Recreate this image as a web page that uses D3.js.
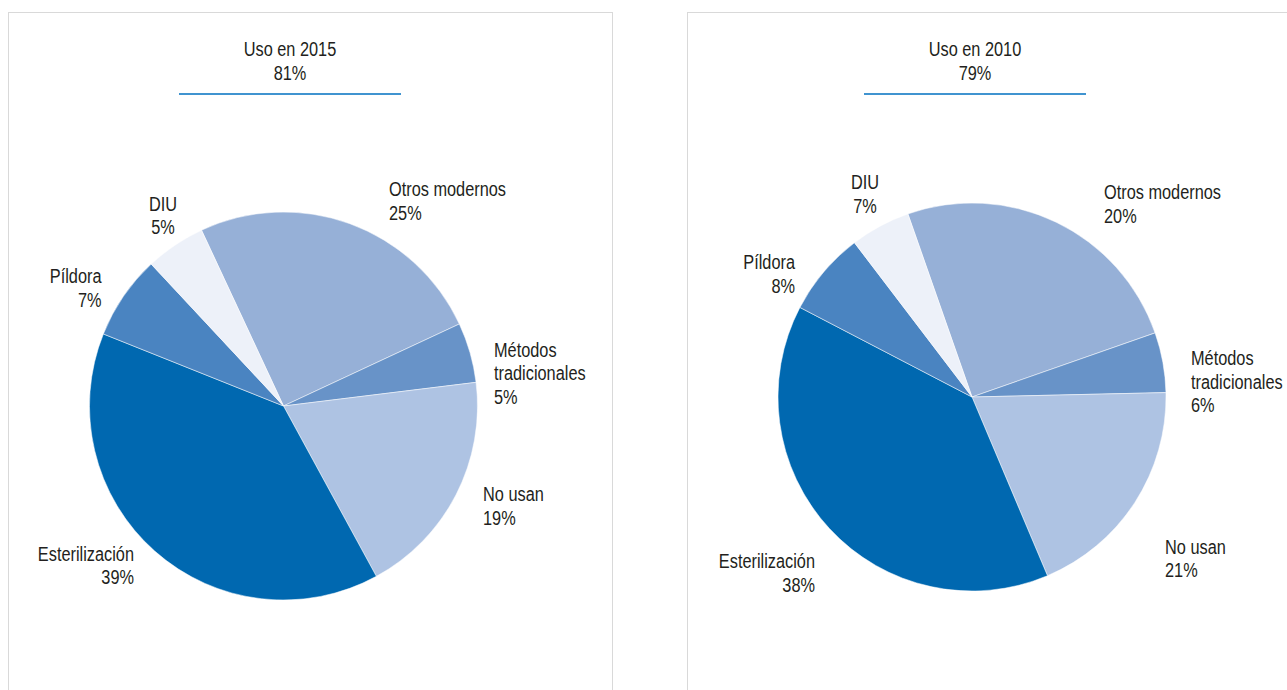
<!DOCTYPE html>
<html>
<head>
<meta charset="utf-8">
<script src="https://cdn.jsdelivr.net/npm/d3@7"></script>
<style>
  html, body { margin: 0; padding: 0; background: #ffffff; }
  svg { display: block; }
  text { font-family: "Liberation Sans", Arial, "DejaVu Sans", sans-serif; fill: #231f20; }
</style>
</head>
<body>
<svg id="chart" width="1287" height="690"></svg>
<script>
// ---- data ----
const categories = ["Otros modernos", "Métodos tradicionales", "No usan", "Esterilización", "Píldora", "DIU"];
const categoryLines = [["Otros modernos"], ["Métodos", "tradicionales"], ["No usan"], ["Esterilización"], ["Píldora"], ["DIU"]];
const colors = ["#96b0d7", "#6893c8", "#aec3e3", "#0068b0", "#4a84c1", "#edf1f9"];

const years = ["2015", "2010"];
const usageTotals = ["81%", "79%"];
// slice shares as drawn in the picture
const values2015 = [25, 5, 19, 39, 7, 5];
const values2010 = [25, 5, 19, 39, 7, 5];
// percentages printed in the labels
const pct2015 = [25, 5, 19, 39, 7, 5];
const pct2010 = [20, 6, 21, 38, 8, 7];

// ---- layout ----
const panels = [
  { x: 8, titleX: 290, cx: 283.5, cy: 406, r: 194, startDeg: -25, values: values2015, pct: pct2015,
    labelOff: [[105.5, -210, "start"], [210.5, -49.5, "start"], [199.5, 95, "start"], [-149.5, 154.5, "end"], [-182, -123, "end"], [-120.5, -195.5, "middle"]] },
  { x: 687, titleX: 975, cx: 972, cy: 397, r: 194, startDeg: -19.3, values: values2010, pct: pct2010,
    labelOff: [[132, -198, "start"], [219, -32, "start"], [193, 156.5, "start"], [-157, 171, "end"], [-177, -128, "end"], [-107, -208, "middle"]] }
];
const panelW = 604, fontSize = 19.5, lineH = 23.5;

const svg = d3.select("#chart");

// horizontal condensation so that the available sans face matches the condensed original
const probe = svg.append("text").style("font-size", fontSize + "px").text("Otros modernos");
const sx = 117 / probe.node().getComputedTextLength();
probe.remove();

function multiText(parent, x, y, anchor, lines) {
  const t = parent.append("text")
    .attr("text-anchor", anchor)
    .style("font-size", fontSize + "px");
  lines.forEach((ln, j) => {
    const ts = t.append("tspan").attr("x", x).attr("y", y + j * lineH).text(ln);
    const len = ts.node().getComputedTextLength();
    ts.attr("textLength", (len * sx).toFixed(2)).attr("lengthAdjust", "spacingAndGlyphs");
  });
}

panels.forEach((p, i) => {
  const g = svg.append("g");
  // panel frame
  g.append("rect")
    .attr("x", p.x + 0.5).attr("y", 12.5)
    .attr("width", panelW).attr("height", 720)
    .attr("fill", "none").attr("stroke", "#d9d9d9").attr("stroke-width", 1);

  // title
  multiText(g, p.titleX, 56, "middle", ["Uso en " + years[i], usageTotals[i]]);
  g.append("line")
    .attr("x1", p.titleX - 111).attr("x2", p.titleX + 111)
    .attr("y1", 94).attr("y2", 94)
    .attr("stroke", "#0070c0").attr("stroke-width", 1.5);

  // pie
  const start = p.startDeg * Math.PI / 180;
  const pie = d3.pie().sort(null).value(d => d).startAngle(start).endAngle(start + 2 * Math.PI);
  const arc = d3.arc().innerRadius(0).outerRadius(p.r);
  const pg = g.append("g").attr("transform", `translate(${p.cx},${p.cy})`);
  pg.selectAll("path").data(pie(p.values)).join("path")
    .attr("d", arc)
    .attr("fill", (d, k) => colors[k])
    .attr("stroke", "#ffffff").attr("stroke-width", 0.5);

  // labels
  categories.forEach((c, k) => {
    const [dx, dy, anchor] = p.labelOff[k];
    multiText(pg, dx, dy, anchor, categoryLines[k].concat([p.pct[k] + "%"]));
  });
});
</script>
</body>
</html>
